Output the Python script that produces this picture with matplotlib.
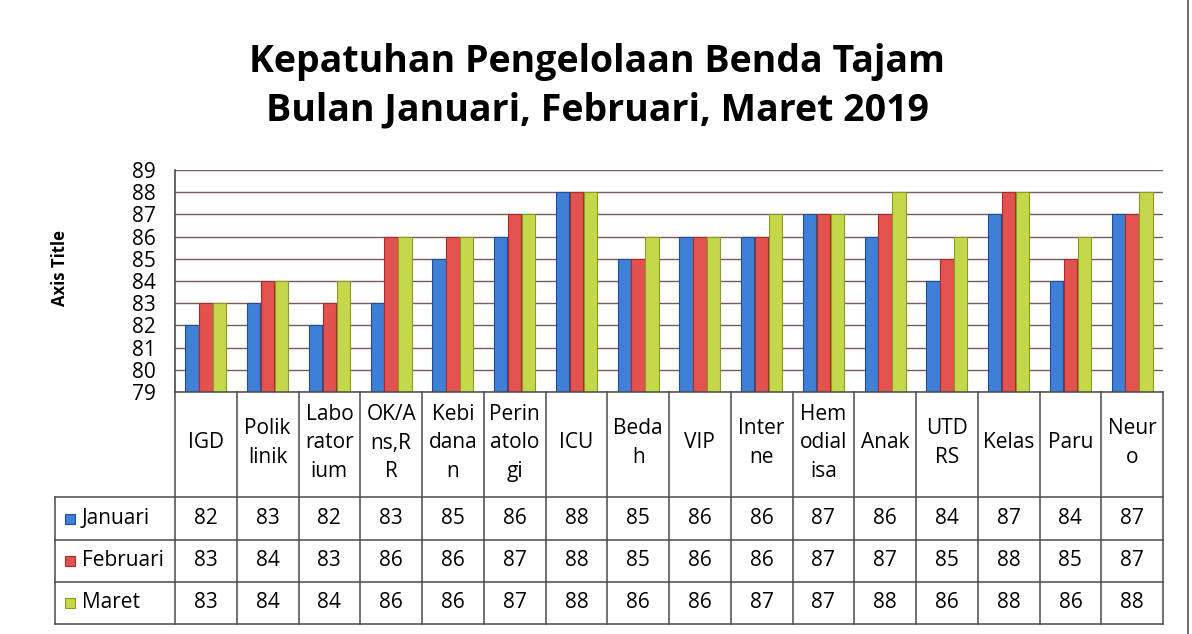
import matplotlib
matplotlib.use("Agg")
import matplotlib.pyplot as plt
import numpy as np
from matplotlib.lines import Line2D
from matplotlib.patches import Rectangle

categories = ["IGD", "Polik\nlinik", "Labo\nrator\nium", "OK/A\nns,R\nR", "Kebi\ndana\nn",
              "Perin\natolo\ngi", "ICU", "Beda\nh", "VIP", "Inter\nne", "Hem\nodial\nisa",
              "Anak", "UTD\nRS", "Kelas", "Paru", "Neur\no"]
series_names = ["Januari", "Februari", "Maret"]
januari = [82, 83, 82, 83, 85, 86, 88, 85, 86, 86, 87, 86, 84, 87, 84, 87]
februari = [83, 84, 83, 86, 86, 87, 88, 85, 86, 86, 87, 87, 85, 88, 85, 87]
maret = [83, 84, 84, 86, 86, 87, 88, 86, 86, 87, 87, 88, 86, 88, 86, 88]
y_ticks = list(range(79, 90))
title = "Kepatuhan Pengelolaan Benda Tajam\nBulan Januari, Februari, Maret 2019"

colors = ["#3f7fd6", "#e2534f", "#c5d84b"]
edge_colors = ["#1f4f9a", "#a82a2a", "#8c9a20"]
grid_color = "#7a5a5a"
line_color = "#4a4a4a"

plt.rcParams['font.family'] = ['Open Sans', 'DejaVu Sans']

W, H = 1192, 634
fig = plt.figure(figsize=(W / 100, H / 100), dpi=100)
fig.patch.set_facecolor("white")

ax_l, ax_r, ax_t, ax_b = 175, 1163, 170, 392
ax = fig.add_axes([ax_l / W, 1 - ax_b / H, (ax_r - ax_l) / W, (ax_b - ax_t) / H])

n = len(categories)
x = np.arange(n)
bw = 0.215
offs = [-0.225, 0, 0.225]
base = y_ticks[0]
for vals, off, c, ec in zip([januari, februari, maret], offs, colors, edge_colors):
    ax.bar(x + off, np.array(vals) - base, bottom=base, width=bw, color=c,
           edgecolor=ec, linewidth=0.8, zorder=3)

ax.set_xlim(-0.5, n - 0.5)
ax.set_ylim(y_ticks[0], y_ticks[-1])
ax.set_yticks(y_ticks)
ax.set_yticklabels([str(t) for t in y_ticks], fontsize=15)
ax.tick_params(axis="y", length=0, pad=14)
ax.set_xticks([])
ax.grid(axis="y", color=grid_color, linewidth=1.0, zorder=0)
for s in ["top", "right", "bottom"]:
    ax.spines[s].set_visible(False)
ax.spines["left"].set_color(line_color)
ax.spines["left"].set_linewidth(1.2)

fig.text(60 / W, 1 - 268 / H, "Axis Title", rotation=90, fontsize=12, fontweight="bold",
         ha="center", va="center")
fig.text(597 / W, 1 - 86 / H, title, fontsize=27, fontweight="bold", ha="center",
         va="center", linespacing=1.35)

# data table
def fx(px):
    return px / W

def fy(py):
    return 1 - py / H

row_top = 497
row_h = [497, 540, 582, 624]
table_bottom = 624
legend_left = 55
slot = (ax_r - ax_l) / n

lines = []
for i in range(n + 1):
    xp = ax_l + i * slot
    lines.append(Line2D([fx(xp), fx(xp)], [fy(ax_b), fy(table_bottom)]))
lines.append(Line2D([fx(legend_left), fx(legend_left)], [fy(row_top), fy(table_bottom)]))
for yp in row_h:
    lines.append(Line2D([fx(legend_left), fx(ax_r)], [fy(yp), fy(yp)]))
lines.append(Line2D([fx(ax_l), fx(ax_r)], [fy(ax_b), fy(ax_b)]))
# outer chart border on the right
lines.append(Line2D([fx(1188), fx(1188)], [fy(0), fy(H)]))
for ln in lines:
    ln.set_color(line_color)
    ln.set_linewidth(1.1)
    fig.add_artist(ln)

for i, cat in enumerate(categories):
    xc = ax_l + (i + 0.5) * slot
    fig.text(fx(xc), fy(443), cat, fontsize=15, ha="center", va="center", linespacing=1.45)

for r, (name, vals) in enumerate(zip(series_names, [januari, februari, maret])):
    yc = (row_h[r] + row_h[r + 1]) / 2
    fig.add_artist(Rectangle((fx(65), fy(yc + 5)), 10 / W, 10 / H, facecolor=colors[r],
                             edgecolor=edge_colors[r], linewidth=0.8, transform=fig.transFigure))
    fig.text(fx(82), fy(yc), name, fontsize=15, ha="left", va="center")
    for i, v in enumerate(vals):
        xc = ax_l + (i + 0.5) * slot
        fig.text(fx(xc), fy(yc), str(v), fontsize=15, ha="center", va="center")

fig.savefig("out.png", dpi=100)
